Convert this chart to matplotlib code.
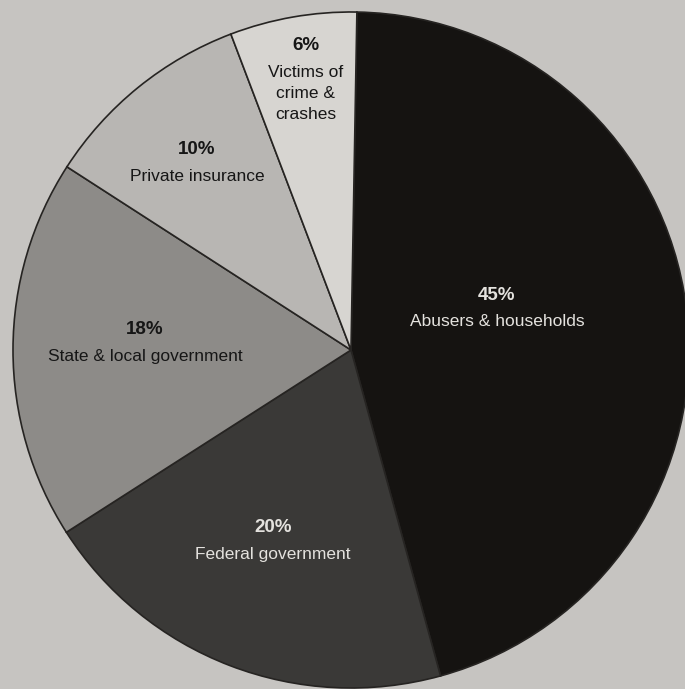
import matplotlib
matplotlib.use("Agg")
import matplotlib.pyplot as plt

# dados
categorias = ["Abusers & households", "Federal government", "State & local government",
              "Private insurance", "Victims of\ncrime &\ncrashes"]
valores = [45, 20, 18, 10, 6]
rotulos_pct = ["45%", "20%", "18%", "10%", "6%"]

cores = ["#151311", "#3a3937", "#8d8b88", "#b8b6b3", "#d7d5d1"]
cor_texto = ["#e4e2de", "#e4e2de", "#161616", "#161616", "#161616"]
# posicao dos rotulos (pixels, origem em cima a esquerda)
pos_rotulos = [(497, 295), (273, 528), (145, 330), (197, 150), (306, 46)]

W, H = 685, 689
fig = plt.figure(figsize=(W / 100, H / 100), dpi=100)
fig.patch.set_facecolor("#c6c4c1")
ax = fig.add_axes([0, 0, 1, 1])

ax.pie(valores, colors=cores, startangle=89, counterclock=False,
       center=(351, H - 350), radius=338,
       wedgeprops=dict(edgecolor="#262422", linewidth=1.2))
ax.set_xlim(0, W)
ax.set_ylim(0, H)
ax.set_aspect("equal")
ax.axis("off")

fam = ["Liberation Sans", "DejaVu Sans"]
for pct, cat, (x, y), c in zip(rotulos_pct, categorias, pos_rotulos, cor_texto):
    ax.text(x, H - y, pct, ha="center", va="center", fontsize=13.5,
            fontweight="bold", color=c, family=fam)
    ax.text(x, H - y - 19, cat, ha="center", va="top", fontsize=12.5,
            color=c, family=fam, linespacing=1.5)

fig.savefig("out.png", dpi=100, facecolor=fig.get_facecolor())
